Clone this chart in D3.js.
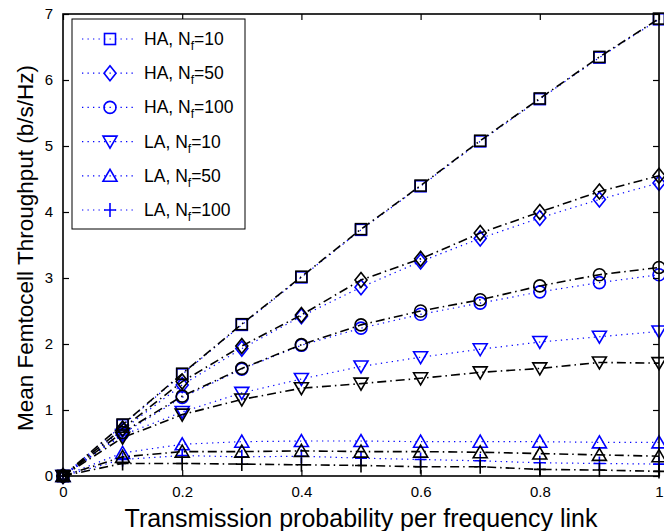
<!DOCTYPE html>
<html><head><meta charset="utf-8">
<script src="https://cdn.jsdelivr.net/npm/d3@7"></script>
<style>body{margin:0;background:#fff}svg{display:block;font-family:"Liberation Sans",Arial,sans-serif}</style>
</head><body>
<svg id="c" width="664" height="531"></svg>
<script>
const xValues = [0,0.1,0.2,0.3,0.4,0.5,0.6,0.7,0.8,0.9,1.0];
const xTicks = [0,0.2,0.4,0.6,0.8,1];
const yTicks = [0,1,2,3,4,5,6,7];
// blue dotted (legend) series
const haNf10 = [0,0.77,1.54,2.29,3.01,3.73,4.39,5.07,5.71,6.34,6.92];
const haNf50 = [0,0.70,1.38,1.93,2.42,2.86,3.25,3.60,3.91,4.19,4.44];
const haNf100 = [0,0.64,1.19,1.62,1.98,2.24,2.45,2.62,2.79,2.93,3.05];
const laNf10 = [0,0.62,0.97,1.26,1.47,1.66,1.80,1.92,2.03,2.11,2.19];
const laNf50 = [0,0.35,0.48,0.52,0.53,0.53,0.52,0.52,0.52,0.51,0.51];
const laNf100 = [0,0.25,0.31,0.29,0.30,0.27,0.25,0.23,0.20,0.19,0.18];
// black dash-dot series
const haNf10b = [0,0.78,1.55,2.30,3.02,3.74,4.40,5.08,5.72,6.35,6.93];
const haNf50b = [0,0.72,1.43,1.97,2.44,2.97,3.29,3.68,4.00,4.31,4.55];
const haNf100b = [0,0.66,1.21,1.63,1.99,2.29,2.50,2.67,2.88,3.05,3.16];
const laNf10b = [0,0.58,0.93,1.16,1.33,1.40,1.48,1.57,1.63,1.72,1.71];
const laNf50b = [0,0.29,0.37,0.37,0.38,0.37,0.37,0.36,0.34,0.32,0.30];
const laNf100b = [0,0.19,0.19,0.18,0.17,0.16,0.14,0.14,0.10,0.09,0.07];
const legendNames = ["10","50","100","10","50","100"];
const legendPrefix = ["HA","HA","HA","LA","LA","LA"];
const markers = ["square","diamond","circle","tdown","tup","plus"];

const svg = d3.select("#c");
const L=63,R=659,T=14,B=476;
const x = d3.scaleLinear().domain([0,1]).range([L,R]);
const y = d3.scaleLinear().domain([0,7]).range([B,T]);

function marker(g, type, cx, cy, color){
  const s=5.5;
  let el;
  if(type==="square") el=g.append("rect").attr("x",cx-s).attr("y",cy-s).attr("width",2*s).attr("height",2*s);
  else if(type==="diamond") el=g.append("path").attr("d",`M${cx},${cy-7.5}L${cx+6},${cy}L${cx},${cy+7.5}L${cx-6},${cy}Z`);
  else if(type==="circle") el=g.append("circle").attr("cx",cx).attr("cy",cy).attr("r",6);
  else if(type==="tdown") el=g.append("path").attr("d",`M${cx-7},${cy-5.5}L${cx+7},${cy-5.5}L${cx},${cy+6.5}Z`);
  else if(type==="tup") el=g.append("path").attr("d",`M${cx-7},${cy+5.5}L${cx+7},${cy+5.5}L${cx},${cy-6.5}Z`);
  else el=g.append("path").attr("d",`M${cx-6},${cy}H${cx+6}M${cx},${cy-7}V${cy+7}`);
  el.attr("fill","none").attr("stroke",color).attr("stroke-width",1.6);
}

const blueSeries=[haNf10,haNf50,haNf100,laNf10,laNf50,laNf100];
const blackSeries=[haNf10b,haNf50b,haNf100b,laNf10b,laNf50b,laNf100b];
const line = d3.line().x((d,i)=>x(xValues[i])).y(d=>y(d));
const plot = svg.append("g");
blueSeries.forEach((s,k)=>{
  plot.append("path").attr("d",line(s)).attr("fill","none").attr("stroke","#0000ff").attr("stroke-width",1.2).attr("stroke-dasharray","1.3,4.2");
  s.forEach((v,i)=>marker(plot,markers[k],x(xValues[i]),y(v),"#0000ff"));
});
blackSeries.forEach((s,k)=>{
  plot.append("path").attr("d",line(s)).attr("fill","none").attr("stroke","#000").attr("stroke-width",1.6).attr("stroke-dasharray","9,4,1.5,4");
  s.forEach((v,i)=>marker(plot,markers[k],x(xValues[i]),y(v),"#000"));
});

// axes box
const ax = svg.append("g");
ax.append("rect").attr("x",L).attr("y",T).attr("width",R-L).attr("height",B-T).attr("fill","none").attr("stroke","#000").attr("stroke-width",1.6);
const fmt = d3.format("~g");
const xb = d3.axisBottom(x).tickValues(xTicks).tickSize(-6).tickPadding(10).tickFormat(fmt);
const xt = d3.axisTop(x).tickValues(xTicks).tickSize(-6).tickFormat("");
const yl = d3.axisLeft(y).tickValues(yTicks).tickSize(-6).tickPadding(10).tickFormat(fmt);
const yr = d3.axisRight(y).tickValues(yTicks).tickSize(-6).tickFormat("");
function style(g){g.select(".domain").remove();g.selectAll("line").attr("stroke","#000").attr("stroke-width",1.2);g.selectAll("text").attr("fill","#000").attr("font-size",15).attr("font-family","Liberation Sans, Arial, sans-serif");}
ax.append("g").attr("transform",`translate(0,${B})`).call(xb).call(style);
ax.append("g").attr("transform",`translate(0,${T})`).call(xt).call(style);
ax.append("g").attr("transform",`translate(${L},0)`).call(yl).call(style);
ax.append("g").attr("transform",`translate(${R},0)`).call(yr).call(style);

svg.append("text").attr("x",(L+R)/2).attr("y",527).attr("text-anchor","middle").attr("font-size",25).text("Transmission probability per frequency link");
svg.append("text").attr("transform",`translate(33,${(T+B)/2+3}) rotate(-90)`).attr("text-anchor","middle").attr("font-size",22.5).text("Mean Femtocell Throughput (b/s/Hz)");

// legend
const lg = svg.append("g");
lg.append("rect").attr("x",72).attr("y",19).attr("width",173).attr("height",210).attr("fill","#fff").attr("stroke","#000").attr("stroke-width",1);
legendNames.forEach((n,k)=>{
  const cy = 39 + k*34.2;
  lg.append("line").attr("x1",82).attr("x2",134).attr("y1",cy).attr("y2",cy).attr("stroke","#0000ff").attr("stroke-width",1.2).attr("stroke-dasharray","1.3,4.2");
  marker(lg,markers[k],110,cy,"#0000ff");
  const t = lg.append("text").attr("x",144).attr("y",cy+6).attr("font-size",17.5);
  t.append("tspan").text(legendPrefix[k]+", N");
  t.append("tspan").attr("font-size",12).attr("dy",5).text("f");
  t.append("tspan").attr("dy",-5).text("="+n);
});
</script>
</body></html>
